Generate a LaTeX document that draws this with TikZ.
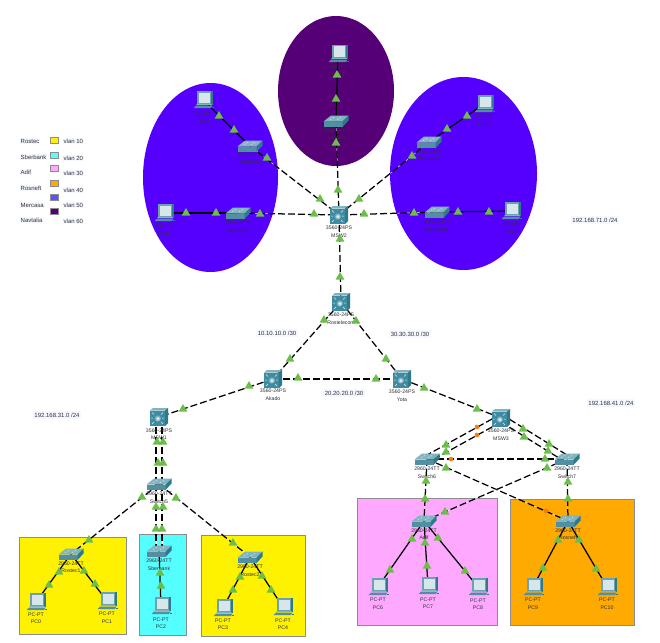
\documentclass[tikz,border=0pt]{standalone}
\usepackage{fontspec}
\setmainfont{Liberation Sans}
\definecolor{vlanmerc}{HTML}{5500FF}
\definecolor{vlannav}{HTML}{550077}
\definecolor{vlanpink}{HTML}{FFA8FF}
\definecolor{vlanor}{HTML}{FFAA00}
\definecolor{vlancy}{HTML}{55FFFF}
\definecolor{vlanblue}{HTML}{5555FF}
\definecolor{lighttri}{HTML}{6CBE4A}
\definecolor{oranged}{HTML}{F57A14}
\definecolor{devtop}{HTML}{82B4C0}
\definecolor{devfront}{HTML}{528FA3}
\definecolor{devside}{HTML}{2C7A8C}
\definecolor{mswfront}{HTML}{3F8CA2}
\definecolor{pcscreen}{HTML}{D6E6EA}
\definecolor{txt}{HTML}{303038}
\definecolor{labbg}{HTML}{F6F8FF}
\usetikzlibrary{shapes.geometric}
\tikzset{
 x=1pt,y=-1pt,
 devpt/.style={inner sep=0pt,minimum size=0pt,outer sep=0pt},
 lbl/.style={inner sep=0pt,font=\fontsize{5.2}{6}\selectfont,text=txt},
 note/.style={inner sep=1.5pt,font=\fontsize{6}{7}\selectfont,text=txt,fill=labbg},
 legtxt/.style={inner sep=1pt,font=\fontsize{6}{7}\selectfont,text=txt,fill=labbg},
 vlanzone/.style={draw=black!45,line width=0.7pt},
 swatch/.style={draw=black!45,line width=0.6pt,minimum width=8pt,minimum height=6pt,inner sep=0pt},
 solidlink/.style={draw=black,line width=1.25pt},
 dashlink/.style={draw=black,line width=1.25pt,dash pattern=on 7pt off 3pt,preaction={draw=white,solid}},
 heavylink/.style={dashlink,line width=1.5pt},
 tri/.style={regular polygon,regular polygon sides=3,fill=lighttri,inner sep=0pt,minimum size=10pt},
 dot/.style={circle,fill=oranged,inner sep=0pt,minimum size=4.6pt},
 swicon/.pic={
  \fill[devfront] (-12.5,0.5) rectangle (6.5,6);
  \fill[devtop] (-12.5,0.5) -- (-5,-5.5) -- (12.5,-5.5) -- (6.5,0.5) -- cycle;
  \fill[devside] (6.5,0.5) -- (12.5,-5.5) -- (12.5,-0.5) -- (6.5,6) -- cycle;
  \draw[white!80!devtop,line width=0.5pt,dash pattern=on 1.5pt off 1.5pt] (-6,-1.5) -- (-1,-4);
  \draw[white!80!devtop,line width=0.5pt,dash pattern=on 1.5pt off 1.5pt] (1,-1.5) -- (6,-4);
 },
 mswicon/.pic={
  \fill[mswfront] (-9,-6.5) rectangle (6,9);
  \fill[devtop] (-9,-6.5) -- (-6,-9) -- (9,-9) -- (6,-6.5) -- cycle;
  \fill[devside] (6,-6.5) -- (9,-9) -- (9,6) -- (6,9) -- cycle;
  \draw[white!85!mswfront,line width=0.45pt] (-7,-4.5) -- (-5,-2.5) (4,-4.5) -- (2,-2.5) (-7,7) -- (-5,5) (4,7) -- (2,5) (-8,1.2) -- (-6,1.2) (3,1.2) -- (5,1.2);
  \shade[inner color=white,outer color=mswfront] (-1.5,1.2) circle (3.6);
 },
 pcicon/.pic={
  \fill[devside] (-6,-9) rectangle (10,5);
  \fill[devside!70!white] (-6,-9) rectangle (8,4.5);
  \fill[pcscreen] (-4.5,-7.5) rectangle (7,2.5);
  \fill[devtop] (-7,5) -- (9,5) -- (8,4) -- (-6,4) -- cycle;
  \fill[devfront] (-9.5,8) -- (8,8) -- (9.5,5.5) -- (-7,5.5) -- cycle;
  \fill[devside] (9,6.5) rectangle (11,8);
 }
}
\def\swlist{mercasaone/250/146/Mercasa1/155/162,mercasatwo/238/213/Mercasa2/223/231,navtalia/336/121/Navtalia/131/138,mercasathree/429/142/Mercasa3/152/159,mercasafour/437/212/Mercasa4/222/230,switchfive/159/484/Switch5/494/502,rostecone/71/554/Rostec1/564/571,sberbank/159/551/Sberbank/561/569,rostectwo/250/557/Rostec2/567/575,switchsix/427/459/Switch6/469/477,switchseven/567/459/Switch7/469/477,adif/424/521/Adif/531/538,rosneft/568/521/Rosneft/531/538}
\def\mswlist{mswtwo/339/215/MSW2/228/236,rostelecom/341/302/Rostelecom/315/323,akado/273/379/Akado/391/399,yota/402/379/Yota/392/400,mswone/159/417/MSW1/431/438,mswthree/501/418/MSW3/431/439}
\def\pclist{pczero/36/602/PC0/615/622,pcone/107/601/PC1/614/622,pctwo/161/606/PC2/620/627,pcthree/223/608/PC3/621/628,pcfour/283/607/PC4/621/628,pcsix/378/587/PC6/600/608,pcseven/428/586/PC7/600/607,pceight/478/587/PC8/601/608,pcnine/533/587/PC9/600/608,pcten/607/587/PC10/600/608,pceleven/164/213/PC11/226/234,pctwelve/203/100/PC12/115/122,pcthirteen/338/54/PC13/68/75,pcfourteen/484/104/PC14/117/125,pcfifteen/511/211/PC15/225/232}
\begin{document}
\begin{tikzpicture}
\useasboundingbox (0,0) rectangle (660,642);
\fill[white] (0,0) rectangle (660,642);
% zones
\fill[vlanmerc] (210.5,177.5) ellipse [x radius=67.5,y radius=94.5];
\fill[vlannav] (336,91) ellipse [x radius=58,y radius=75];
\fill[vlanmerc] (463.5,173.5) ellipse [x radius=73.5,y radius=96.5];
\filldraw[vlanzone,fill=yellow] (19,537) rectangle (126,634);
\filldraw[vlanzone,fill=vlancy] (139,534) rectangle (186,635);
\filldraw[vlanzone,fill=yellow] (201,535) rectangle (305,636);
\filldraw[vlanzone,fill=vlanpink] (357,498) rectangle (497,625);
\filldraw[vlanzone,fill=vlanor] (510,499) rectangle (634,625);
% anchors
\foreach \n/\x/\y/\l/\a/\b in \swlist {\node[devpt] (\n) at (\x,\y) {};}
\foreach \n/\x/\y/\l/\a/\b in \mswlist {\node[devpt] (\n) at (\x,\y) {};}
\foreach \n/\x/\y/\l/\a/\b in \pclist {\node[devpt] (\n) at (\x,\y) {};}
% solid links
\foreach \a/\b in {pctwelve/mercasaone,pceleven/mercasatwo,pcthirteen/navtalia,mercasathree/pcfourteen,mercasafour/pcfifteen,rostecone/pczero,rostecone/pcone,sberbank/pctwo,rostectwo/pcthree,rostectwo/pcfour,adif/pcsix,adif/pcseven,adif/pceight,rosneft/pcnine,rosneft/pcten}
 \draw[solidlink] (\a) -- (\b);
% dashed links
\foreach \a/\b in {mercasaone/mswtwo,mercasatwo/mswtwo,navtalia/mswtwo,mercasathree/mswtwo,mercasafour/mswtwo,mswtwo/rostelecom,rostelecom/akado,rostelecom/yota,akado/yota,akado/mswone,yota/mswthree,switchfive/rostecone,switchfive/rostectwo,switchsix/rosneft,switchseven/adif,switchsix/adif,switchseven/rosneft}
 \draw[dashlink] (\a) -- (\b);
\foreach \s in {-3,3} {
 \draw[dashlink] ([xshift=\s pt]mswone.center) -- ([xshift=\s pt]switchfive.center);
 \draw[dashlink] ([xshift=\s pt]switchfive.center) -- ([xshift=\s pt]sberbank.center);
}
\foreach \s in {-4,4} {
 \draw[dashlink] ([yshift=\s pt]mswthree.center) -- ([yshift=\s pt]switchsix.center);
 \draw[dashlink] ([yshift=\s pt]mswthree.center) -- ([yshift=\s pt]switchseven.center);
}
\draw[heavylink] (switchsix) -- (switchseven);
% icons and labels
\foreach \n/\x/\y/\l/\a/\b in \swlist {
 \pic at (\x,\y) {swicon};
 \node[lbl] (\n-m) at (\x,\a) {2960-24TT};
 \node[lbl] (\n-l) at (\x,\b) {\l};
}
\foreach \n/\x/\y/\l/\a/\b in \mswlist {
 \pic at (\x,\y) {mswicon};
 \node[lbl] (\n-m) at (\x,\a) {3560-24PS};
 \node[lbl] (\n-l) at (\x,\b) {\l};
}
\foreach \n/\x/\y/\l/\a/\b in \pclist {
 \pic at (\x,\y) {pcicon};
 \node[lbl] (\n-m) at (\x,\a) {PC-PT};
 \node[lbl] (\n-l) at (\x,\b) {\l};
}
% link lights
\foreach \x/\y [count=\i] in {219/116,234/130,267/158,320/199,186/213,216/213,260/214,314/214,337/75,336/99,336/143,338/190,359/199,364/214,340/239,340/277,467/116,447/129,412/156,414/213,458/212,489/212,324/320,356/321,290/359,386/359,298/378,376/379,249/386,424/388,183/409,157/442,163/442,158/463,163/463,142/497,176/498,156/507,163/507,156/529,162/529,89/540,233/543,59/572,84/571,49/585,95/584,160/573,161/586,240/577,262/576,233/590,271/590,477/409,523/429,524/437,446/445,446/452,549/444,548/451,545/459,446/468,547/468,426/481,425/499,568/482,568/499,445/512,412/539,425/543,438/538,558/540,579/540,390/570,427/566,465/571,543/568,596/569}
 \node[tri] (light\i) at (\x,\y) {};
\foreach \x/\y [count=\i] in {477/427,477/435,451/459,546/511}
 \node[dot] (amber\i) at (\x,\y) {};
% notes
\node[note] (netseventyone) at (595,220) {192.168.71.0 /24};
\node[note] (netthirtyone) at (57,415) {192.168.31.0 /24};
\node[note] (netfortyone) at (611,403) {192.168.41.0 /24};
\node[note] (netten) at (277,333) {10.10.10.0 /30};
\node[note] (netthirty) at (410,334) {30.30.30.0 /30};
\node[note] (nettwenty) at (344,393) {20.20.20.0 /30};
% legend
\foreach \t/\y [count=\i] in {Rostec/141,Sberbank/157,Adif/172,Rosneft/188,Mercasa/205,Navtalia/220}
 \node[legtxt,anchor=west] (company\i) at (19.5,\y) {\t};
\foreach \t/\y [count=\i] in {vlan 10/141,vlan 20/158,vlan 30/173,vlan 40/190,vlan 50/205,vlan 60/221}
 \node[legtxt,anchor=west] (vlan\i) at (62.5,\y) {\t};
\foreach \c/\y [count=\i] in {yellow/140,vlancy/155,vlanpink/168,vlanor/183,vlanblue/197,vlannav/211}
 \node[swatch,fill=\c] (swatch\i) at (54,\y) {};
\end{tikzpicture}
\end{document}
